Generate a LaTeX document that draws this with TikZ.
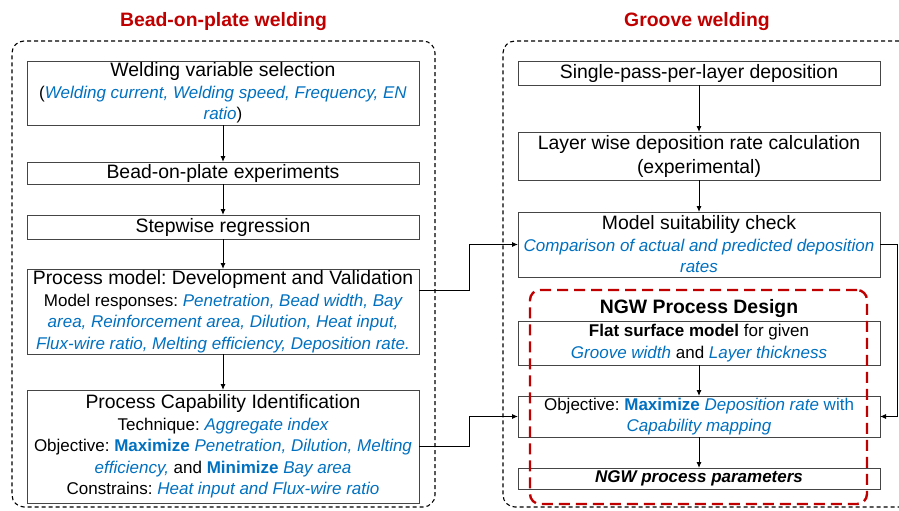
\documentclass[tikz,border=0pt]{standalone}
\usepackage{fontspec}
\setmainfont{Liberation Sans}
\usepackage{xcolor}
\usetikzlibrary{positioning,arrows.meta}

\definecolor{refblue}{HTML}{0070C0}
\definecolor{refred}{HTML}{C00000}
\definecolor{boxgray}{HTML}{454545}
\newcommand{\mainsz}{\fontsize{19.4}{24}\selectfont}
\newcommand{\subsz}{\fontsize{17}{21.5}\selectfont}
\newcommand{\hlit}[1]{\textcolor{refblue}{\itshape #1}}
\newcommand{\hlbf}[1]{\textcolor{refblue}{\bfseries #1}}
\frenchspacing

\begin{document}
\begin{tikzpicture}[
    x=1pt, y=-1pt,
    node distance=31pt,
    stepbox/.style={draw=boxgray, line width=0.95pt, align=center, inner sep=1pt, outer sep=0pt, font=\subsz},
    leftbox/.style={stepbox, minimum width=392pt},
    rightbox/.style={stepbox, minimum width=362pt},
    frame/.style={draw, line width=1.1pt, dash pattern=on 4pt off 3pt, rounded corners=12pt},
    redframe/.style={draw=refred, line width=2.4pt, dash pattern=on 11pt off 6pt, rounded corners=10pt},
    heading/.style={text=refred, font=\mainsz\bfseries, inner sep=0pt},
    arrow/.style={-{Latex[length=6pt,width=5pt]}, line width=0.95pt}
  ]
    \useasboundingbox (0,0) rectangle (899,511);

    \node[heading, anchor=base] (beadtitle) at (223.5,27) {Bead-on-plate welding};
    \node[heading, anchor=base] (groovetitle) at (697,27) {Groove welding};

    \node[frame, minimum width=423pt, minimum height=466pt] (beadframe) at (223.5,274) {};
    \begin{scope}
      \clip (0,0) rectangle (899,511);
      \node[frame, minimum width=422pt, minimum height=466pt] (grooveframe) at (714,274) {};
    \end{scope}

    \node[leftbox, minimum height=64pt, anchor=north] (sel) at (223,61) {{\mainsz Welding variable selection}\\(\hlit{Welding current, Welding speed, Frequency, EN}\\\hlit{ratio})};
    \node[leftbox, minimum height=22pt, below=37pt of sel, font=\mainsz] (exp) {Bead-on-plate experiments};
    \node[leftbox, minimum height=24pt, below=31pt of exp, font=\mainsz] (reg) {Stepwise regression};
    \node[leftbox, minimum height=85pt, below=30pt of reg] (model) {{\mainsz Process model: Development and Validation}\\Model responses: \hlit{Penetration, Bead width, Bay}\\\hlit{area, Reinforcement area, Dilution, Heat input,}\\\hlit{Flux-wire ratio, Melting efficiency, Deposition rate.}};
    \node[leftbox, minimum height=113pt, below=36pt of model] (cap) {{\mainsz Process Capability Identification}\\Technique: \hlit{Aggregate index}\\Objective: \hlbf{Maximize} \hlit{Penetration, Dilution, Melting}\\\hlit{efficiency,} and \hlbf{Minimize} \hlit{Bay area}\\Constrains: \hlit{Heat input and Flux-wire ratio}};

    \node[rightbox, minimum height=24pt, anchor=north, font=\mainsz] (single) at (699,61) {Single-pass-per-layer deposition};
    \node[rightbox, minimum height=48pt, below=47pt of single, font=\mainsz] (layer) {Layer wise deposition rate calculation\\(experimental)};
    \node[rightbox, minimum height=65pt, below=32pt of layer] (suit) {{\mainsz Model suitability check}\\\hlit{Comparison of actual and predicted deposition}\\\hlit{rates}};
    \node[rightbox, minimum height=44pt, below=44pt of suit] (flat) {\textbf{Flat surface model} for given\\\hlit{Groove width} and \hlit{Layer thickness}};
    \node[rightbox, minimum height=41pt, below=31pt of flat] (obj) {Objective: \hlbf{Maximize} \hlit{Deposition rate} \textcolor{refblue}{with}\\\hlit{Capability mapping}};
    \node[rightbox, minimum height=21pt, below=31pt of obj, font=\subsz\bfseries\itshape] (ngw) {NGW process parameters};

    \node[heading, text=black, above=3pt of flat] (ngwtitle) {NGW Process Design};
    \node[redframe, minimum width=337pt, minimum height=214pt] (ngwframe) at (698.5,397) {};

    \draw[arrow] (sel) -- (exp);
    \draw[arrow] (exp) -- (reg);
    \draw[arrow] (reg) -- (model);
    \draw[arrow] (model) -- (cap);
    \draw[arrow] (single) -- (layer);
    \draw[arrow] (layer) -- (suit);
    \draw[arrow] (flat) -- (obj);
    \draw[arrow] (obj) -- (ngw);
    \draw[arrow] ([yshift=21.5pt]model.east) -- ++(50,0) |- (suit.west);
    \draw[arrow] (cap.east) -- ++(50,0) |- (obj.west);
    \draw[arrow] (suit.east) -- ++(17,0) |- (obj.east);
  \end{tikzpicture}
\end{document}
